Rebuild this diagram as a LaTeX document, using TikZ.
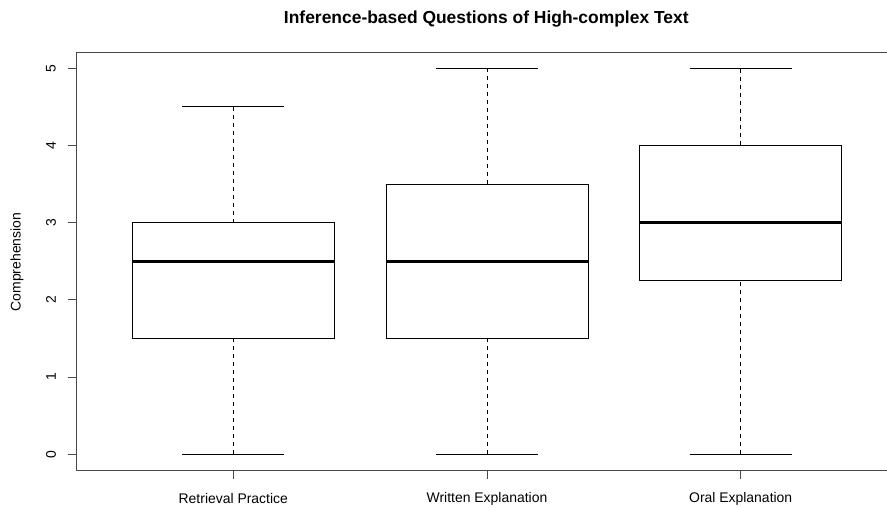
\documentclass[tikz,border=0pt]{standalone}
\usepackage{fontspec}
\setmainfont{Liberation Sans}
\begin{document}
\begin{tikzpicture}[x=1bp,y=1bp,
  frame/.style={draw=black!72, line width=0.8bp},
  boxline/.style={draw=black, line width=0.9bp},
  whisk/.style={draw=black, line width=0.8bp, dash pattern=on 4bp off 4bp},
  medline/.style={draw=black, line width=2.9bp},
  ticklab/.style={font=\fontsize{14}{16}\selectfont, text=black, inner sep=0pt},
  titlelab/.style={font=\bfseries\fontsize{17.5}{20}\selectfont, inner sep=0pt},
]
\useasboundingbox (0,0) rectangle (887,508);

% plot frame (right side lies past the page edge)
\draw[frame] (887,455.3) -- (76.7,455.3) -- (76.7,37.3) -- (887,37.3);

% title and axis title
\node[titlelab] (title) at (486.3,489) {Inference-based Questions of High-complex Text};
\node[ticklab, rotate=90] (ylab) at (17,246) {Comprehension};

% data scope: one unit of comprehension = 77.2bp
\begin{scope}[y=77.2bp, yshift=53.7bp]
  % y axis ticks and labels
  \foreach \v in {0,...,5} {
    \draw[frame] (68.3,\v) -- (76.7,\v);
    \node[ticklab, rotate=90] (yt\v) at (51,\v) {\v};
  }
  % boxes: centre / min / Q1 / median / Q3 / max
  \foreach \c/\mn/\qa/\md/\qb/\mx/\nm in {
      233.3/0/1.5/2.5/3/4.5/rp,
      487/0/1.5/2.5/3.5/5/we,
      740.7/0/2.25/3/4/5/oe} {
    \draw[whisk] (\c,\mn) -- (\c,\qa);
    \draw[whisk] (\c,\qb) -- (\c,\mx);
    \draw[boxline] (\c-51,\mn) -- (\c+51,\mn);
    \draw[boxline] (\c-51,\mx) -- (\c+51,\mx);
    \draw[boxline, fill=white] (\c-101,\qa) rectangle (\c+101,\qb);
    \draw[medline] (\c-100.5,\md) -- (\c+100.5,\md);
  }
\end{scope}

% x axis ticks and group labels
\foreach \c/\lab/\nm in {233.3/Retrieval Practice/rp, 487/Written Explanation/we, 740.7/Oral Explanation/oe} {
  \draw[frame] (\c,37.3) -- (\c,28.7);
  \node[ticklab] (xl-\nm) at (\c,9.5) {\lab};
}
\end{tikzpicture}
\end{document}
